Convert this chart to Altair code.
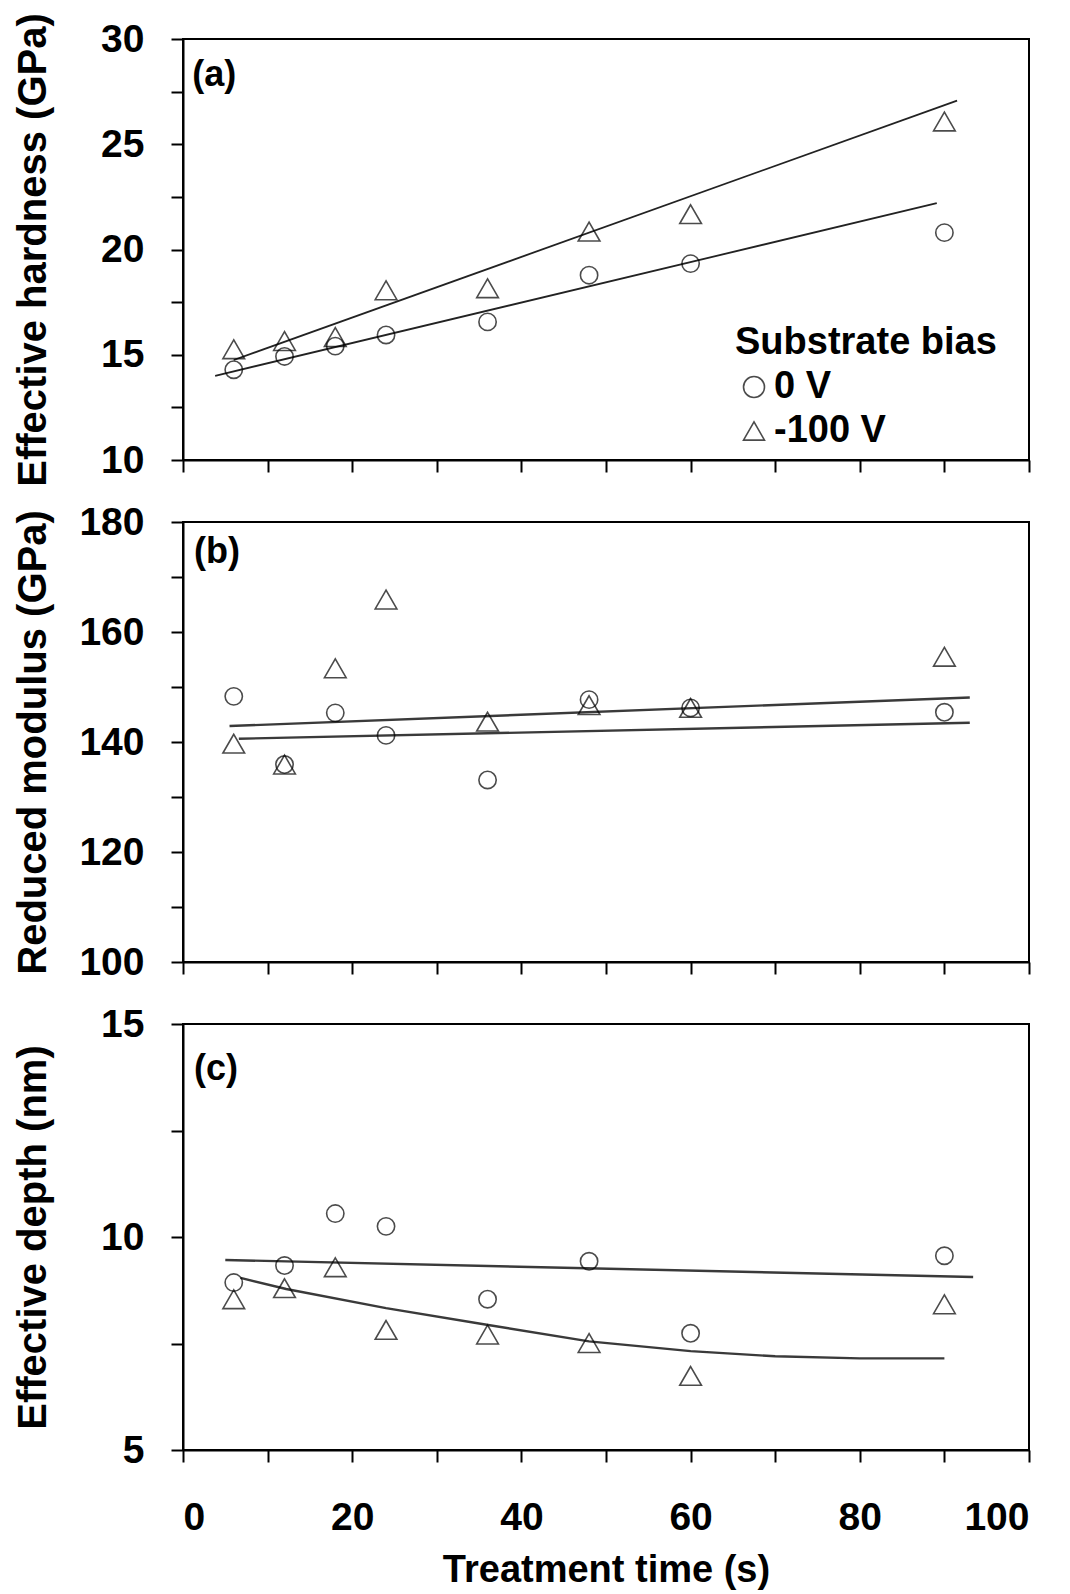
import altair as alt
import pandas as pd

FONT = "Liberation Sans"

# ---------------- data ----------------
time_s = [6, 12, 18, 24, 36, 48, 60, 90]
series = ["0 V", "-100 V"]

hard_0 = [14.29, 14.92, 15.41, 15.94, 16.56, 18.78, 19.33, 20.80]
hard_100 = [15.26, 15.65, 15.84, 18.06, 18.16, 20.85, 21.68, 26.08]

mod_0 = [148.3, 135.9, 145.3, 141.2, 133.1, 147.7, 146.2, 145.4]
mod_100 = [139.7, 135.9, 153.4, 165.9, 143.7, 146.7, 146.2, 155.5]

depth_0 = [8.93, 9.33, 10.55, 10.25, 8.54, 9.43, 7.74, 9.56]
depth_100 = [8.54, 8.80, 9.29, 7.82, 7.71, 7.51, 6.74, 8.42]

# fitted trend lines
fit_a0_t = [3.8, 89.1]
fit_a0_v = [14.0, 22.2]
fit_a100_t = [6.0, 91.5]
fit_a100_v = [14.75, 27.07]

fit_b0_t = [6.6, 93.0]
fit_b0_v = [140.6, 143.5]
fit_b100_t = [5.5, 93.0]
fit_b100_v = [142.9, 148.1]

fit_c0_t = [5.0, 93.4]
fit_c0_v = [9.46, 9.06]
fit_c100_t = [6.8, 12.2, 24, 35.9, 48, 60, 70, 80, 90]
fit_c100_v = [9.04, 8.78, 8.33, 7.94, 7.55, 7.32, 7.20, 7.15, 7.15]

x_ticks = [0, 10, 20, 30, 40, 50, 60, 70, 80, 90, 100]
a_ticks = [10, 12.5, 15, 17.5, 20, 22.5, 25, 27.5, 30]
b_ticks = [100, 110, 120, 130, 140, 150, 160, 170, 180]
c_ticks = [5, 7.5, 10, 12.5, 15]

# ---------------- helpers ----------------
X_SCALE = alt.Scale(domain=[0, 100], nice=False, zero=False)

W = 846


def x_axis(bottom):
    common = dict(
        values=x_ticks,
        tickSize=12,
        tickWidth=2,
        tickColor="black",
        domainColor="black",
        domainWidth=2,
        grid=False,
    )
    if bottom:
        return alt.Axis(
            title="Treatment time (s)",
            labelExpr="datum.value % 20 === 0 ? datum.label : ''",
            labelFont=FONT,
            labelFontSize=39,
            labelFontWeight="bold",
            labelColor="black",
            labelPadding=36,
            titleFont=FONT,
            titleFontSize=38,
            titleFontWeight="bold",
            titleColor="black",
            titlePadding=14,
            **common,
        )
    return alt.Axis(title=None, labels=False, **common)


def y_axis(ticks, mod, title, height):
    return alt.Axis(
        values=ticks,
        labelExpr=f"datum.value % {mod} === 0 ? datum.label : ''",
        title=title,
        titleX=-150,
        titleY=height / 2,
        titleBaseline="middle",
        titleFont=FONT,
        titleFontSize=40,
        titleFontWeight="bold",
        titleColor="black",
        labelFont=FONT,
        labelFontSize=39,
        labelFontWeight="bold",
        labelColor="black",
        labelPadding=27,
        tickSize=12,
        tickWidth=2,
        tickColor="black",
        domainColor="black",
        domainWidth=2,
        grid=False,
    )


def panel(v0, v1, f0t, f0v, f1t, f1v, ydom, ticks, mod, title, tag, tag_t, tag_v,
          height, bottom, legend, line_w, line_c):
    pts = pd.DataFrame({
        "t": time_s + time_s,
        "v": v0 + v1,
        "bias": [series[0]] * len(v0) + [series[1]] * len(v1),
    })
    fit = pd.DataFrame({
        "t": f0t + f1t,
        "v": f0v + f1v,
        "bias": [series[0]] * len(f0t) + [series[1]] * len(f1t),
    })
    lab = pd.DataFrame({"t": [tag_t], "v": [tag_v], "txt": [tag]})

    xa = x_axis(bottom)
    ya = y_axis(ticks, mod, title, height)
    ys = alt.Scale(domain=ydom, nice=False, zero=False)

    X = alt.X("t:Q", scale=X_SCALE, axis=xa)
    Y = alt.Y("v:Q", scale=ys, axis=ya)

    lines = alt.Chart(fit).mark_line(color=line_c, strokeWidth=line_w).encode(
        x=X, y=Y, detail="bias:N"
    )

    if legend:
        leg = alt.Legend(
            title="Substrate bias",
            orient="none",
            legendX=552,
            legendY=285,
            titleFont=FONT,
            titleFontSize=38,
            titleFontWeight="bold",
            titleColor="black",
            titlePadding=6,
            titleLimit=600,
            labelFont=FONT,
            labelFontSize=38,
            labelFontWeight="bold",
            labelColor="black",
            labelOffset=1,
            labelLimit=400,
            rowPadding=6,
            symbolSize=440,
            symbolStrokeWidth=1.6,
            symbolStrokeColor="black",
            symbolFillColor="white",
            padding=0,
        )
    else:
        leg = None

    points = alt.Chart(pts).mark_point(filled=False, color="black", strokeWidth=1.6).encode(
        x=X,
        y=Y,
        shape=alt.Shape(
            "bias:N",
            scale=alt.Scale(domain=series, range=["circle", "triangle-up"]),
            legend=leg,
            sort=series,
        ),
        size=alt.condition(alt.datum.bias == series[0], alt.value(300), alt.value(470)),
    )

    text = alt.Chart(lab).mark_text(
        align="left", baseline="middle", font=FONT, fontSize=36, fontWeight="bold", color="black"
    ).encode(x=X, y=Y, text="txt:N")

    return alt.layer(lines, points, text).properties(width=W, height=height)


pa = panel(hard_0, hard_100, fit_a0_t, fit_a0_v, fit_a100_t, fit_a100_v,
           [10, 30], a_ticks, 5, "Effective hardness (GPa)", "(a)", 1.1, 28.3,
           421, False, True, 1.8, "#222222")
pb = panel(mod_0, mod_100, fit_b0_t, fit_b0_v, fit_b100_t, fit_b100_v,
           [100, 180], b_ticks, 20, "Reduced modulus (GPa)", "(b)", 1.3, 174.5,
           440, False, False, 2.4, "#3a3a3a")
pc = panel(depth_0, depth_100, fit_c0_t, fit_c0_v, fit_c100_t, fit_c100_v,
           [5, 15], c_ticks, 5, "Effective depth (nm)", "(c)", 1.3, 13.95,
           426, True, False, 2.4, "#3a3a3a")

chart = (
    alt.vconcat(pa, pb, pc, spacing=62, bounds="flush")
    .properties(padding={"left": 3, "top": 3, "right": 4, "bottom": 0}, background="white")
    .configure_view(stroke="black", strokeWidth=2)
)

chart.save("out.html", embed_options={"renderer": "svg", "actions": False})
